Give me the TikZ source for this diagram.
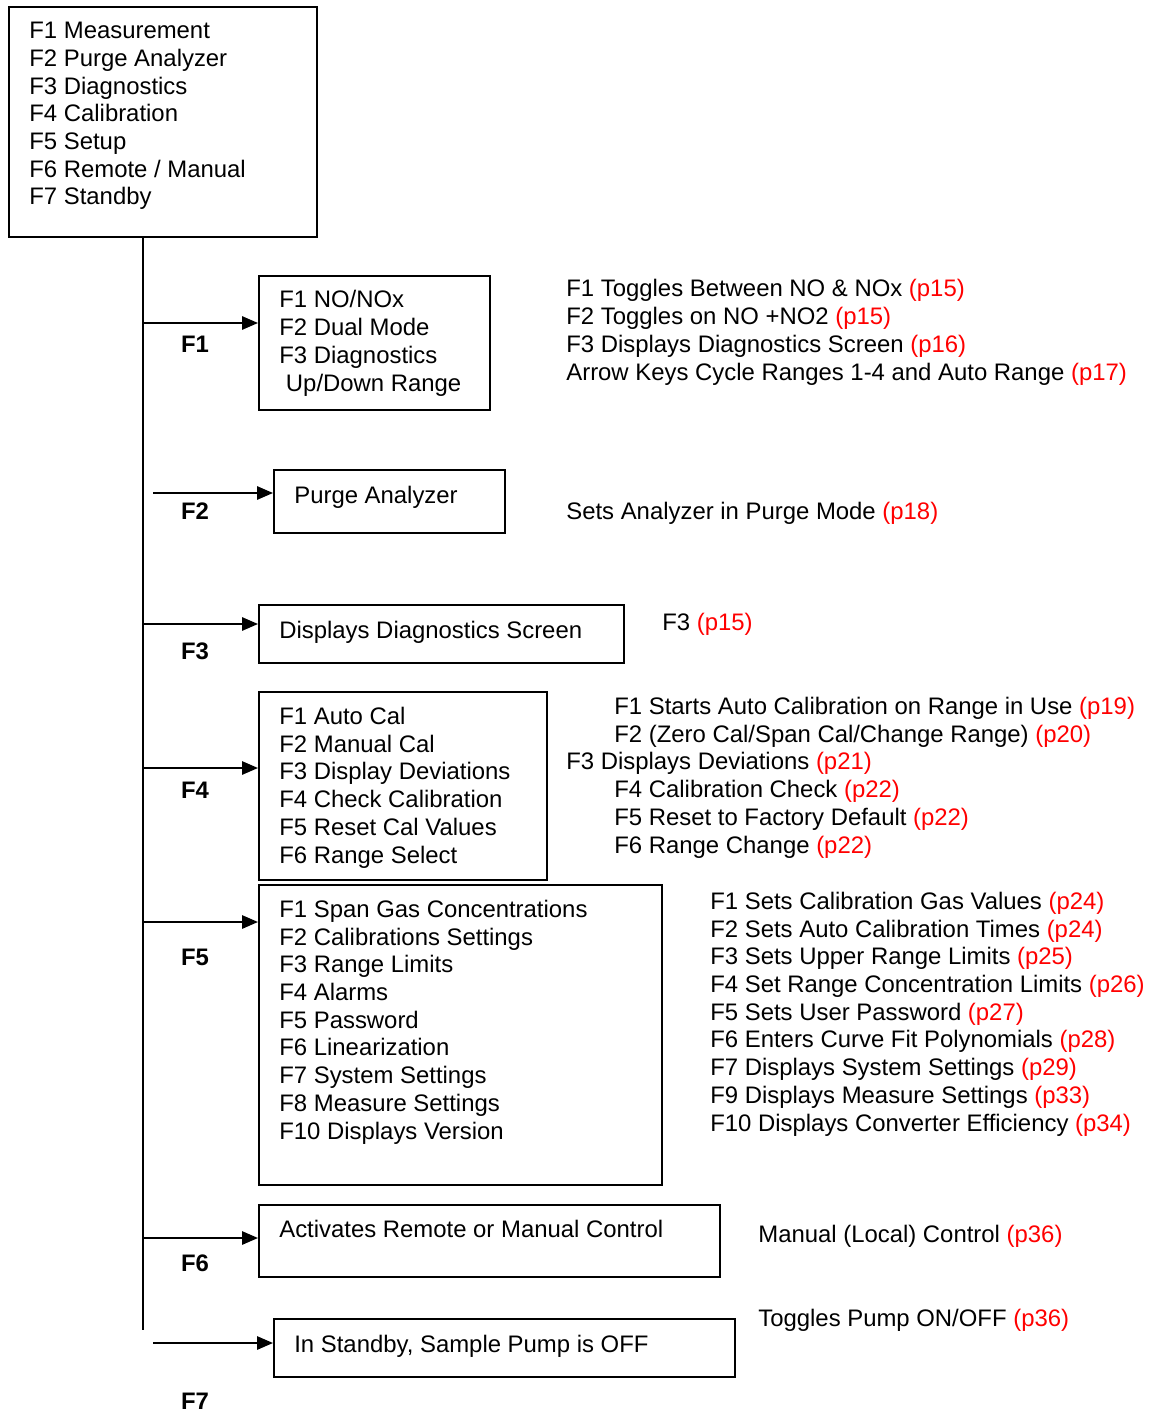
\documentclass[tikz,border=0pt]{standalone}
\usepackage{fontspec}
\setmainfont{Liberation Sans}
\usepackage{xcolor}
\usetikzlibrary{arrows.meta}

\newcommand{\pg}[1]{\textcolor{red}{(#1)}}

\begin{document}
\begin{tikzpicture}[x=0.02cm,y=-0.02cm,
    box/.style={draw,black,line width=1.1pt,anchor=north west,inner sep=0pt},
    txt/.style={anchor=base west,align=left,inner sep=0pt,font=\fontsize{13.6}{15.75}\selectfont},
    key/.style={inner sep=0pt,font=\fontsize{13.6}{15.75}\selectfont\bfseries},
    link/.style={black,line width=1.1pt,-{Triangle[length=9pt,width=7.5pt]}}]
  \useasboundingbox (0,0) rectangle (1160,1412);
  \node [box,minimum width=308*0.02cm,minimum height=230*0.02cm] (main) at (8,6) {};
  \node [txt] (maint) at (29,205) {F1 Measurement\\F2 Purge Analyzer\\F3 Diagnostics\\F4 Calibration\\F5 Setup\\F6 Remote / Manual\\F7 Standby};
  \node [box,minimum width=231*0.02cm,minimum height=134*0.02cm] (b1) at (258,275) {};
  \node [txt] (b1t) at (279,391) {F1 NO/NOx\\F2 Dual Mode\\F3 Diagnostics\\\ Up/Down Range};
  \node [box,minimum width=231*0.02cm,minimum height=63*0.02cm] (b2) at (273,469) {};
  \node [txt] (b2t) at (294,503) {Purge Analyzer};
  \node [box,minimum width=365*0.02cm,minimum height=58*0.02cm] (b3) at (258,604) {};
  \node [txt] (b3t) at (279,638) {Displays Diagnostics Screen};
  \node [box,minimum width=288*0.02cm,minimum height=188*0.02cm] (b4) at (258,691) {};
  \node [txt] (b4t) at (279,863) {F1 Auto Cal\\F2 Manual Cal\\F3 Display Deviations\\F4 Check Calibration\\F5 Reset Cal Values\\F6 Range Select};
  \node [box,minimum width=403*0.02cm,minimum height=300*0.02cm] (b5) at (258,884) {};
  \node [txt] (b5t) at (279,1139) {F1 Span Gas Concentrations\\F2 Calibrations Settings\\F3 Range Limits\\F4 Alarms\\F5 Password\\F6 Linearization\\F7 System Settings\\F8 Measure Settings\\F10 Displays Version};
  \node [box,minimum width=461*0.02cm,minimum height=72*0.02cm] (b6) at (258,1204) {};
  \node [txt] (b6t) at (279,1237) {Activates Remote or Manual Control};
  \node [box,minimum width=461*0.02cm,minimum height=58*0.02cm] (b7) at (273,1318) {};
  \node [txt] (b7t) at (294,1352) {In Standby, Sample Pump is OFF};
  \node [key] (k1) at (195,344) {F1};
  \node [key] (k2) at (195,511) {F2};
  \node [key] (k3) at (195,651) {F3};
  \node [key] (k4) at (195,790) {F4};
  \node [key] (k5) at (195,957) {F5};
  \node [key] (k6) at (195,1263) {F6};
  \node [key] (k7) at (195,1401) {F7};
  \node [txt] (n1) at (566,380) {F1 Toggles Between NO \& NOx \pg{p15}\\F2 Toggles on NO +NO2 \pg{p15}\\F3 Displays Diagnostics Screen \pg{p16}\\Arrow Keys Cycle Ranges 1-4 and Auto Range \pg{p17}};
  \node [txt] (n2) at (566,519) {Sets Analyzer in Purge Mode \pg{p18}};
  \node [txt] (n3) at (662,630) {F3 \pg{p15}};
  \node [txt] (n4) at (566,853) {\hspace*{0.96cm}F1 Starts Auto Calibration on Range in Use \pg{p19}\\\hspace*{0.96cm}F2 (Zero Cal/Span Cal/Change Range) \pg{p20}\\F3 Displays Deviations \pg{p21}\\\hspace*{0.96cm}F4 Calibration Check \pg{p22}\\\hspace*{0.96cm}F5 Reset to Factory Default \pg{p22}\\\hspace*{0.96cm}F6 Range Change \pg{p22}};
  \node [txt] (n5) at (710,1131) {F1 Sets Calibration Gas Values \pg{p24}\\F2 Sets Auto Calibration Times \pg{p24}\\F3 Sets Upper Range Limits \pg{p25}\\F4 Set Range Concentration Limits \pg{p26}\\F5 Sets User Password \pg{p27}\\F6 Enters Curve Fit Polynomials \pg{p28}\\F7 Displays System Settings \pg{p29}\\F9 Displays Measure Settings \pg{p33}\\F10 Displays Converter Efficiency \pg{p34}};
  \node [txt] (n6) at (758,1242) {Manual (Local) Control \pg{p36}};
  \node [txt] (n7) at (758,1326) {Toggles Pump ON/OFF \pg{p36}};
  \coordinate (t1) at (143,323);
  \coordinate (t2) at (153,493);
  \coordinate (t3) at (143,624);
  \coordinate (t4) at (143,768);
  \coordinate (t5) at (143,922);
  \coordinate (t6) at (143,1238);
  \coordinate (t7) at (153,1343);
  \coordinate (tend) at (143,1330);
  \draw [black,line width=1.1pt] (t1 |- main.south) -- (tend);
  \draw [link] (t1) -- (t1 -| b1.west);
  \draw [link] (t2) -- (t2 -| b2.west);
  \draw [link] (t3) -- (t3 -| b3.west);
  \draw [link] (t4) -- (t4 -| b4.west);
  \draw [link] (t5) -- (t5 -| b5.west);
  \draw [link] (t6) -- (t6 -| b6.west);
  \draw [link] (t7) -- (t7 -| b7.west);
\end{tikzpicture}
\end{document}
